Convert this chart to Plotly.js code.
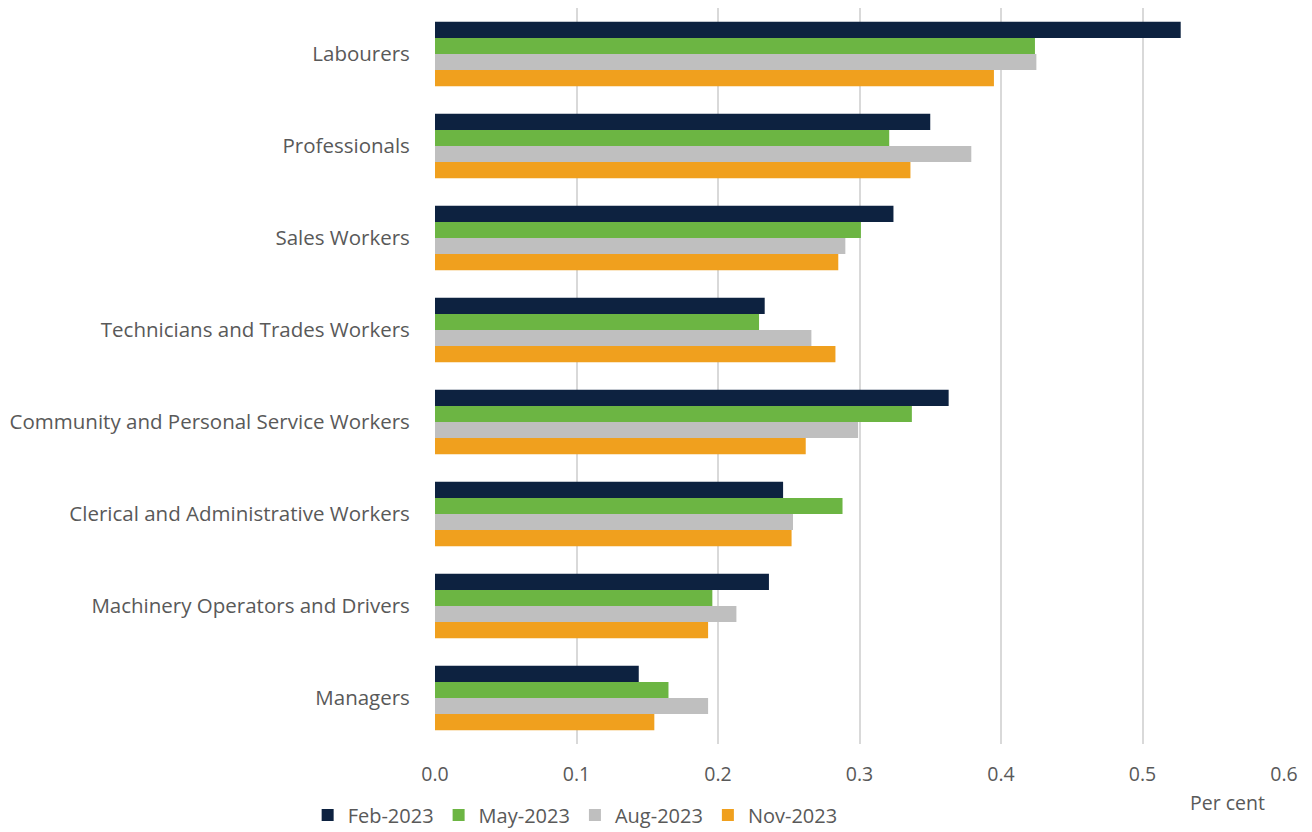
<!DOCTYPE html>
<html>
<head>
<meta charset="utf-8">
<script src="https://cdn.plot.ly/plotly-3.0.1.min.js"></script>
<style>html,body{margin:0;padding:0;background:#fff;}#chart{width:1312px;height:832px;}</style>
</head>
<body>
<div id="chart"></div>
<script>
const categories = ["Labourers","Professionals","Sales Workers","Technicians and Trades Workers","Community and Personal Service Workers","Clerical and Administrative Workers","Machinery Operators and Drivers","Managers"];
const seriesNames = ["Feb-2023","May-2023","Aug-2023","Nov-2023"];
const feb2023 = [0.527,0.350,0.324,0.233,0.363,0.246,0.236,0.144];
const may2023 = [0.424,0.321,0.301,0.229,0.337,0.288,0.196,0.165];
const aug2023 = [0.425,0.379,0.290,0.266,0.299,0.253,0.213,0.193];
const nov2023 = [0.395,0.336,0.285,0.283,0.262,0.252,0.193,0.155];
const xTicks = [0,0.1,0.2,0.3,0.4,0.5,0.6];
const xTickText = ["0.0","0.1","0.2","0.3","0.4","0.5","0.6"];

const colors = ["#0d2240","#6cb543","#bfbfbf","#f0a01e"];
const values = [feb2023, may2023, aug2023, nov2023];
const traces = values.map((v,i)=>({
  type:"bar", orientation:"h", name:seriesNames[i], x:v, y:categories,
  marker:{color:colors[i], line:{width:0}}
}));
const font = "'Open Sans', 'Noto Sans', sans-serif";
const layout = {
  width:1312, height:832,
  margin:{l:435, r:28, t:8, b:88, autoexpand:false},
  paper_bgcolor:"#fff", plot_bgcolor:"#fff",
  barmode:"group", bargap:0.3, bargroupgap:0,
  font:{family:font, color:"#595959", size:19},
  xaxis:{range:[0,0.6], tickvals:xTicks, ticktext:xTickText, showgrid:true, gridcolor:"#d9d9d9", gridwidth:2,
         zeroline:false, showline:false, ticks:"outside", ticklen:13, tickcolor:"rgba(0,0,0,0)", tickfont:{size:19.5, color:"#595959"}, fixedrange:true},
  yaxis:{autorange:"reversed", showgrid:false, zeroline:false, showline:false, ticks:"outside", ticklen:20, tickcolor:"rgba(0,0,0,0)",
         tickfont:{size:20.5, color:"#595959"}},
  showlegend:true,
  legend:{orientation:"h", x:-0.15, xanchor:"left", y:-0.07, yanchor:"top", font:{size:20, color:"#595959"}, itemwidth:30, traceorder:"normal"},
  annotations:[{text:"Per cent", xref:"paper", yref:"paper", x:1, xanchor:"right", y:-0.058, yanchor:"top", showarrow:false, font:{size:19.5, color:"#595959"}, xshift:-17}]
};
Plotly.newPlot("chart", traces, layout, {displayModeBar:false, staticPlot:true});
</script>
</body>
</html>
